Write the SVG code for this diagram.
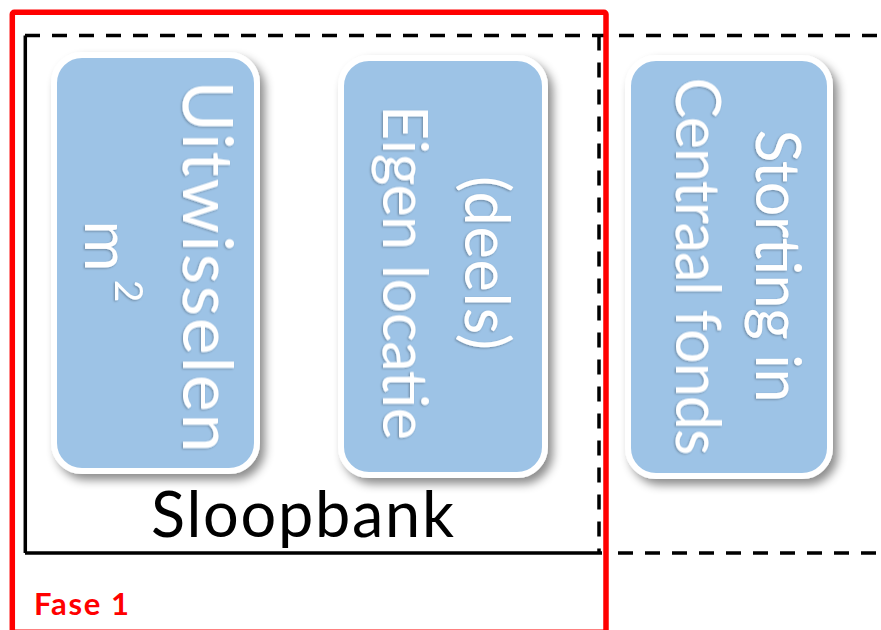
<svg xmlns="http://www.w3.org/2000/svg" width="881" height="630" viewBox="0 0 881 630">
  <style>
    .box { fill: #9dc3e6; stroke: #ffffff; stroke-width: 6; filter: url(#shadow); }
    .lbl { font-family: Lato, "Open Sans", "Liberation Sans", sans-serif; fill: #ffffff; text-anchor: middle; filter: url(#tshadow); }
    .dash { fill: none; stroke: #000; stroke-width: 3.5; stroke-dasharray: 15 12; }
    .solid { fill: none; stroke: #000; stroke-width: 3.5; }
  </style>
  <defs>
    <filter id="shadow" x="-20%" y="-20%" width="150%" height="150%">
      <feDropShadow dx="5" dy="6" stdDeviation="5" flood-color="#000" flood-opacity="0.45"/>
    </filter>
    <filter id="tshadow" x="-10%" y="-10%" width="130%" height="130%">
      <feDropShadow dx="1" dy="1" stdDeviation="0.8" flood-color="#000" flood-opacity="0.3"/>
    </filter>
  </defs>
  <rect width="881" height="630" fill="#ffffff"/>

  <g id="connectors">
    <path class="dash" d="M25,35.5 H890"/>
    <path class="solid" d="M25.3,35.5 V553"/>
    <path class="solid" d="M25,553 H602"/>
    <path class="dash" d="M599,35.5 V553"/>
    <path class="dash" d="M618,553 H890"/>
  </g>

  <g id="node-uitwisselen">
    <rect class="box" x="54" y="55" width="203" height="416" rx="28"/>
    <text class="lbl" font-size="70" textLength="372" lengthAdjust="spacing" transform="translate(183,266.5) rotate(90)">Uitwisselen</text>
    <text class="lbl" font-size="62" transform="translate(85,246) rotate(90)">m</text>
    <text class="lbl" font-size="39" transform="translate(115,291) rotate(90)">2</text>
  </g>

  <g id="node-eigen-locatie">
    <rect class="box" x="341" y="58" width="204" height="417" rx="28"/>
    <text class="lbl" font-size="61" textLength="174" lengthAdjust="spacing" transform="translate(465,263) rotate(90)">(deels)</text>
    <text class="lbl" font-size="61" textLength="335" lengthAdjust="spacing" transform="translate(383,272.5) rotate(90)">Eigen locatie</text>
  </g>

  <g id="node-storting">
    <rect class="box" x="628" y="58" width="202" height="418" rx="28"/>
    <text class="lbl" font-size="61" textLength="273" lengthAdjust="spacing" transform="translate(756,266) rotate(90)">Storting in</text>
    <text class="lbl" font-size="61" textLength="378" lengthAdjust="spacing" transform="translate(676,266.5) rotate(90)">Centraal fonds</text>
  </g>

  <g id="label-sloopbank">
    <text x="151" y="537" font-family="Lato, 'Open Sans', 'Liberation Sans', sans-serif" font-size="63" fill="#000" textLength="303" lengthAdjust="spacing">Sloopbank</text>
  </g>

  <g id="fase1">
    <rect x="12.3" y="12.3" width="593.7" height="620" rx="2" fill="none" stroke="#ff0000" stroke-width="5.5"/>
    <text x="34" y="615" font-family="Lato, 'Open Sans', 'Liberation Sans', sans-serif" font-size="31" font-weight="bold" fill="#ff0000" textLength="95" lengthAdjust="spacing">Fase 1</text>
  </g>
</svg>
